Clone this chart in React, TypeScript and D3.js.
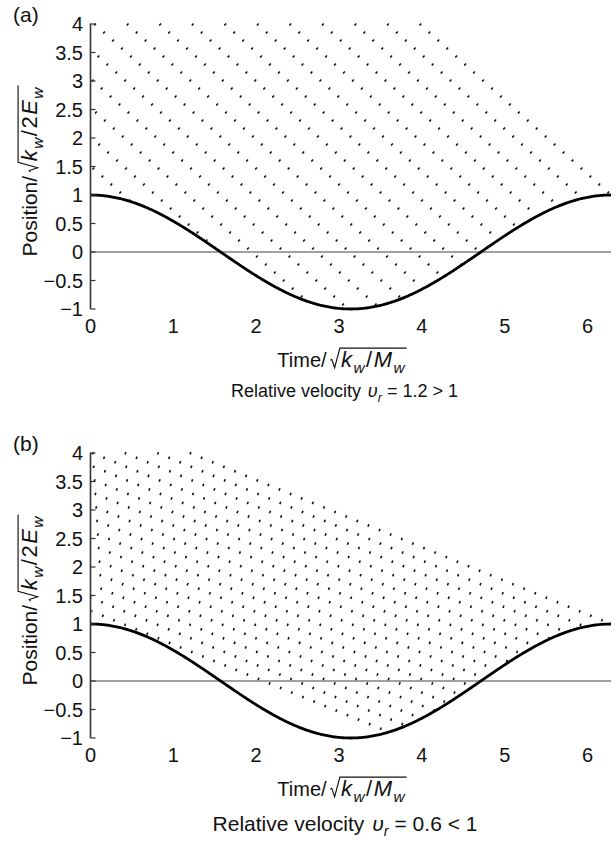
import React, { useEffect, useRef } from "react";
import * as d3 from "d3";

const WIDTH = 616;
const HEIGHT = 841;

// ---- chart content ----
const panelNames = ["(a)", "(b)"];
const relativeVelocityLabels = ["1.2 > 1", "0.6 < 1"];
// slope of particle trajectories as drawn (position units per time unit)
const trajectorySlopes = [1.3, 0.59];
const panelOffsets = [0, 429];
const captionSizes = [18, 21];
const captionBaselines = [397, 402];
const yTickValues = [-1, -0.5, 0, 0.5, 1, 1.5, 2, 2.5, 3, 3.5, 4];
const yTickLabels = ["\u22121", "\u22120.5", "0", "0.5", "1", "1.5", "2", "2.5", "3", "3.5", "4"];
const xTickValues = [0, 1, 2, 3, 4, 5, 6];
const xTickLabels = ["0", "1", "2", "3", "4", "5", "6"];
const trajectoriesPerPeriod = 16;
const timeDomain = [0, 2 * Math.PI];
const positionDomain = [-1, 4];
const wallStart = 1; // wall position at t = 0 (cos 0)

const FONT = "'Liberation Sans', Arial, Helvetica, sans-serif";

type Part = { t: string; it?: boolean; sub?: boolean; dx?: number };

function appendParts(text: any, parts: Part[], F: number) {
  let shifted = false;
  parts.forEach((p) => {
    const ts = text.append("tspan").text(p.t);
    if (p.it) ts.attr("font-style", "italic");
    if (p.dx) ts.attr("dx", p.dx);
    if (p.sub) {
      ts.attr("font-size", F * 0.7);
      if (!shifted) {
        ts.attr("dy", F * 0.25);
        shifted = true;
      }
    } else if (shifted) {
      ts.attr("dy", -F * 0.25);
      shifted = false;
    }
  });
}

function richLabel(
  parent: any,
  pre: Part[],
  F: number,
  rad: Part[] | null = null,
  FR: number = F,
  spacing: number = 0
) {
  const g = parent.append("g");
  const t1 = g
    .append("text")
    .attr("x", 0)
    .attr("y", 0)
    .attr("font-size", F)
    .attr("font-family", FONT)
    .attr("fill", "#111");
  appendParts(t1, pre, F);
  const w1 = (t1.node() as SVGTextElement).getComputedTextLength();
  let W = w1;
  if (rad) {
    const rx = w1 + F * 0.18;
    const rw = FR * 0.44;
    const tx = rx + rw + FR * 0.05;
    const t2 = g
      .append("text")
      .attr("x", tx)
      .attr("y", 0)
      .attr("font-size", FR)
      .attr("font-family", FONT)
      .attr("letter-spacing", spacing)
      .attr("fill", "#111");
    appendParts(t2, rad, FR);
    const w2 = (t2.node() as SVGTextElement).getComputedTextLength();
    const end = tx + w2 + FR * 0.02;
    const top = -0.86 * FR;
    g.append("path")
      .attr(
        "d",
        `M${rx},${-0.3 * FR} L${rx + 0.07 * FR},${-0.35 * FR} L${rx + 0.2 * FR},${0.03 * FR} L${rx + rw},${top} L${end},${top}`
      )
      .attr("fill", "none")
      .attr("stroke", "#111")
      .attr("stroke-width", 1.15);
    W = end;
  }
  return { g, W };
}

function drawPanel(root: any, idx: number) {
  const off = panelOffsets[idx];
  const g = root.append("g").attr("transform", `translate(0,${off})`);
  const x = d3.scaleLinear().domain(timeDomain).range([90.5, 611]);
  const y = d3.scaleLinear().domain(positionDomain).range([309, 24]);
  const v = trajectorySlopes[idx];
  const T = timeDomain[1];

  // clip for trajectories
  const clipId = `traj-clip-${idx}`;
  g.append("clipPath")
    .attr("id", clipId)
    .append("rect")
    .attr("x", x(0) + 1)
    .attr("y", y(positionDomain[1]) - 3)
    .attr("width", x(T) - x(0) + 3)
    .attr("height", y(positionDomain[0]) - y(positionDomain[1]) + 3);

  // particle trajectories (incoming particles until they meet the wall)
  const trajG = g.append("g").attr("clip-path", `url(#${clipId})`);
  const wall = (t: number) => Math.cos(t);
  d3.range(1, trajectoriesPerPeriod + 1).forEach((j) => {
    const tj = (j * T) / trajectoriesPerPeriod;
    const pos = (t: number) => wallStart + v * (tj - t);
    let tHit = T;
    for (let t = 0; t <= T; t += 0.0005) {
      if (pos(t) <= wall(t)) {
        tHit = t;
        break;
      }
    }
    const tTop = tj - (positionDomain[1] - wallStart) / v;
    if (tHit <= Math.max(tTop, 0)) return;
    const line = d3
      .line<[number, number]>()
      .x((d) => x(d[0]))
      .y((d) => y(d[1]));
    trajG
      .append("path")
      .attr("d", line([[tTop, positionDomain[1]], [tHit, pos(tHit)]]))
      .attr("fill", "none")
      .attr("stroke", "#111")
      .attr("stroke-width", 2.6)
      .attr("stroke-dasharray", "1.6 10.4");
  });

  // zero line
  g.append("line")
    .attr("x1", x(0))
    .attr("x2", x(T))
    .attr("y1", y(0))
    .attr("y2", y(0))
    .attr("stroke", "#444")
    .attr("stroke-width", 1.2);

  // wall curve
  const curve = d3
    .line<number>()
    .x((t) => x(t))
    .y((t) => y(wall(t)));
  g.append("path")
    .attr("d", curve(d3.range(0, 401).map((i) => (i / 400) * T)))
    .attr("fill", "none")
    .attr("stroke", "#000")
    .attr("stroke-width", 2.8);

  // y axis
  g.append("line")
    .attr("x1", x(0))
    .attr("x2", x(0))
    .attr("y1", y(positionDomain[1]) - 0.5)
    .attr("y2", y(positionDomain[0]))
    .attr("stroke", "#333")
    .attr("stroke-width", 1.6);
  yTickValues.forEach((val, i) => {
    g.append("line")
      .attr("x1", x(0))
      .attr("x2", x(0) + 5)
      .attr("y1", y(val))
      .attr("y2", y(val))
      .attr("stroke", "#333")
      .attr("stroke-width", 1.2);
    g.append("text")
      .attr("x", 83)
      .attr("y", y(val) + 7.2)
      .attr("text-anchor", "end")
      .attr("font-size", 20)
      .attr("font-family", FONT)
      .attr("fill", "#111")
      .text(yTickLabels[i]);
  });

  // x tick labels
  xTickValues.forEach((val, i) => {
    g.append("text")
      .attr("x", x(val))
      .attr("y", 333)
      .attr("text-anchor", "middle")
      .attr("font-size", 20)
      .attr("font-family", FONT)
      .attr("fill", "#111")
      .text(xTickLabels[i]);
  });

  // panel label
  g.append("text")
    .attr("x", 13)
    .attr("y", 22)
    .attr("font-size", 21)
    .attr("font-family", FONT)
    .attr("fill", "#111")
    .text(panelNames[idx]);

  // x title
  const xt = richLabel(
    g,
    [{ t: "Time/" }],
    20,
    [
      { t: "k", it: true },
      { t: "w", it: true, sub: true },
      { t: "/" },
      { t: "M", it: true },
      { t: "w", it: true, sub: true },
    ],
    22,
    1.5
  );
  xt.g.attr("transform", `translate(${342 - xt.W / 2},367)`);

  // caption
  const CF = captionSizes[idx];
  const cap = richLabel(
    g,
    [
      { t: "Relative velocity" },
      { t: "\u03c5", it: true, dx: CF * 0.38 },
      { t: "r", it: true, sub: true },
      { t: " = " + relativeVelocityLabels[idx] },
    ],
    CF
  );
  cap.g.attr("transform", `translate(${341 - cap.W / 2},${captionBaselines[idx]})`);

  // y title
  const yt = richLabel(
    g,
    [{ t: "Position/" }],
    21,
    [
      { t: "k", it: true },
      { t: "w", it: true, sub: true },
      { t: "/2" },
      { t: "E", it: true },
      { t: "w", it: true, sub: true },
    ],
    22,
    1.5
  );
  yt.g.attr("transform", `translate(37,171) rotate(-90) translate(${-yt.W / 2},0)`);
}

export default function App() {
  const ref = useRef<SVGSVGElement>(null);
  useEffect(() => {
    const svg = d3.select(ref.current);
    svg.selectAll("*").remove();
    svg.append("rect").attr("width", WIDTH).attr("height", HEIGHT).attr("fill", "#fff");
    panelNames.forEach((_, i) => drawPanel(svg, i));
  }, []);
  return (
    <svg
      ref={ref}
      width={WIDTH}
      height={HEIGHT}
      style={{ position: "absolute", left: 0, top: 0, display: "block" }}
    />
  );
}
